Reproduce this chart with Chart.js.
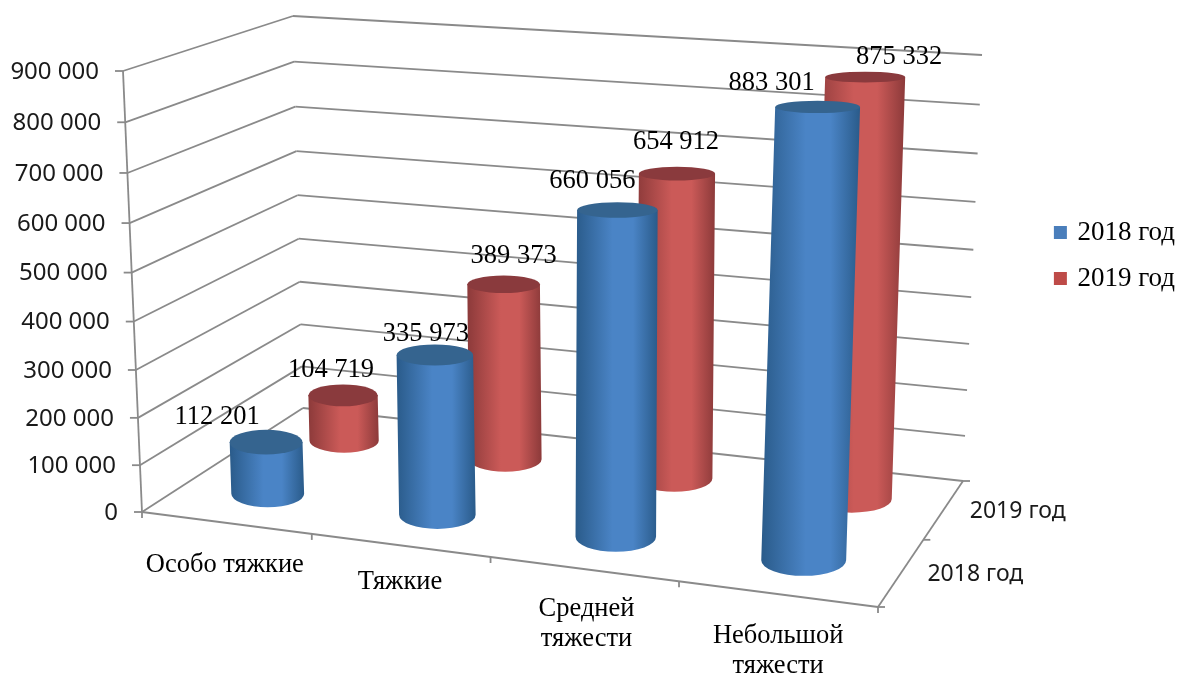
<!DOCTYPE html>
<html>
<head>
<meta charset="utf-8">
<style>
    html, body { margin: 0; padding: 0; background: #fff; }
    canvas { display: block; }
</style>
<script src="https://cdn.jsdelivr.net/npm/chart.js@4/dist/chart.umd.js"></script>
</head>
<body>
<canvas id="myChart" width="1179" height="673"></canvas>
<script>
const categories = [ ['Особо тяжкие'], ['Тяжкие'], ['Средней', 'тяжести'], ['Небольшой', 'тяжести'] ];
const seriesNames = [ '2018 год', '2019 год' ];
const values2018 = [ 112201, 335973, 660056, 883301 ];
const values2019 = [ 104719, 389373, 654912, 875332 ];
const valueMax = 900000;
const valueStep = 100000;

const SERIF = '"Liberation Serif", serif';
const SANS = '"Noto Sans", sans-serif';
const AXIS_COLOR = '#8a8a8a';

// box corners on screen: floor and ceiling, each front-left, front-right, back-right, back-left
const floorCorners = [ [142, 512], [878, 607], [963, 481], [303, 408] ];
const ceilCorners = [ [123, 71], [900, 124], [982, 55], [293, 16] ];
const HEIGHT_PERSPECTIVE = 0.95;
const RADIUS_U = 0.055;
const RADIUS_D = 0.12;
const CAP_FLATTEN = 0.3;

const palettes = [
    { edge: '#2a5b8a', mid: '#4a84c6', cap: '#35648f', solid: '#4a7ebb' },
    { edge: '#8c3a3a', mid: '#cb5a58', cap: '#8a3a3d', solid: '#be4b48' }
];

// nudges of the value labels from the top of their bar
const labelNudge = [
    [ [-49, -25], [-9, -21], [-25, -29], [-46, -24] ],
    [ [-12, -25], [10, -28], [-1, -32], [34, -20] ]
];
// nudges of the category names from their place under the front edge
const categoryNudge = [ [-1, 5], [0, 0], [3, 3], [1, 5] ];

const formatValue = v => String(v).replace(/\B(?=(\d{3})+$)/g, ' ');

// unit square to quad homography
const quadMap = ( q ) => {
    const [ [x0, y0], [x1, y1], [x2, y2], [x3, y3] ] = q;
    const dx1 = x1 - x2, dx2 = x3 - x2, sx = x0 - x1 + x2 - x3;
    const dy1 = y1 - y2, dy2 = y3 - y2, sy = y0 - y1 + y2 - y3;
    const den = dx1 * dy2 - dx2 * dy1;
    const g = (sx * dy2 - dx2 * sy) / den;
    const h = (dx1 * sy - sx * dy1) / den;
    const a = x1 - x0 + g * x1, b = x3 - x0 + h * x3;
    const d = y1 - y0 + g * y1, e = y3 - y0 + h * y3;
    return ( u, v ) => {
        const w = g * u + h * v + 1;
        return [ (a * u + b * v + x0) / w, (d * u + e * v + y0) / w ];
    };
};

const floorMap = quadMap( floorCorners );
const ceilMap = quadMap( ceilCorners );

// u: along categories, v: depth, t: height, all 0..1
const project = ( u, v, t ) => {
    const p = floorMap( u, v ), q = ceilMap( u, v );
    const w0 = 1 - t, w1 = t * HEIGHT_PERSPECTIVE;
    return [ (p[0] * w0 + q[0] * w1) / (w0 + w1), (p[1] * w0 + q[1] * w1) / (w0 + w1) ];
};

const heightOf = ( chart, value ) => {
    const y = chart.scales.y;
    return (y.bottom - y.getPixelForValue( value )) / (y.bottom - y.top);
};

const widthOf = ( chart, index ) => {
    const x = chart.scales.x;
    return (x.getPixelForTick( index ) - x.left) / (x.right - x.left);
};

const depthOf = ( seriesIndex ) => (seriesIndex + 0.5) / seriesNames.length;

const line = ( ctx, a, b ) => {
    ctx.beginPath();
    ctx.moveTo( a[0], a[1] );
    ctx.lineTo( b[0], b[1] );
    ctx.stroke();
};

// ellipse of the bar section at height t: centre and radii on screen
const section = ( u, v, t ) => {
    const c = project( u, v, t );
    const rx = (floorMap( u + RADIUS_U, v )[0] - floorMap( u - RADIUS_U, v )[0]) / 2;
    const ry = (project( u, v - RADIUS_D, t )[1] - project( u, v + RADIUS_D, t )[1]) / 2;
    return { x: c[0], y: c[1], rx, ry: ry * (1 - CAP_FLATTEN * t) };
};

const drawCylinder = ( ctx, u, v, t, colors ) => {
    const top = section( u, v, t );
    const bot = section( u, v, 0 );

    const x0 = Math.min( top.x - top.rx, bot.x - bot.rx );
    const x1 = Math.max( top.x + top.rx, bot.x + bot.rx );
    const grad = ctx.createLinearGradient( x0, 0, x1, 0 );
    grad.addColorStop( 0, colors.edge );
    grad.addColorStop( 0.45, colors.mid );
    grad.addColorStop( 0.7, colors.mid );
    grad.addColorStop( 1, colors.edge );

    ctx.beginPath();
    ctx.moveTo( top.x - top.rx, top.y );
    ctx.lineTo( top.x + top.rx, top.y );
    ctx.lineTo( bot.x + bot.rx, bot.y );
    ctx.ellipse( bot.x, bot.y, bot.rx, bot.ry, 0, 0, Math.PI );
    ctx.closePath();
    ctx.fillStyle = grad;
    ctx.fill();

    ctx.beginPath();
    ctx.ellipse( top.x, top.y, top.rx, top.ry, 0, 0, Math.PI * 2 );
    ctx.fillStyle = colors.cap;
    ctx.fill();
};

const box3d = {
    id: 'box3d',

    // walls, gridlines and all axes
    beforeDatasetsDraw( chart ) {
        const ctx = chart.ctx;
        const yScale = chart.scales.y;
        ctx.save();
        ctx.strokeStyle = AXIS_COLOR;
        ctx.lineWidth = 1.8;
        ctx.textBaseline = 'middle';

        yScale.ticks.forEach( tick => {
            const t = heightOf( chart, tick.value );
            const fl = project( 0, 0, t ), bl = project( 0, 1, t ), br = project( 1, 1, t );
            line( ctx, fl, bl );
            line( ctx, bl, br );
            line( ctx, [ fl[0] - 8, fl[1] ], fl );
            ctx.fillStyle = '#1a1a1a';
            ctx.font = '24px ' + SANS;
            ctx.textAlign = 'right';
            ctx.fillText( tick.label, fl[0] - 24, fl[1] + 1 );
        });

        line( ctx, project( 0, 0, 0 ), project( 0, 0, 1 ) );
        const frontRight = project( 1, 0, 0 ), backRight = project( 1, 1, 0 );
        line( ctx, project( 0, 0, 0 ), frontRight );
        line( ctx, frontRight, backRight );

        // category ticks and names
        const count = categories.length;
        for ( let i = 0; i <= count; i++ ) {
            const p = project( i / count, 0, 0 );
            line( ctx, p, [ p[0], p[1] + 6 ] );
        }
        ctx.fillStyle = '#000';
        ctx.font = '26.5px ' + SERIF;
        ctx.textAlign = 'center';
        categories.forEach( ( lines, i ) => {
            const p = project( widthOf( chart, i ), 0, 0 );
            const n = categoryNudge[i];
            lines.forEach( ( text, k ) => ctx.fillText( text, p[0] + n[0], p[1] + 37 + n[1] + k * 30 ) );
        });

        // depth ticks and names
        for ( let s = 0; s <= seriesNames.length; s++ ) {
            const p = project( 1, s / seriesNames.length, 0 );
            line( ctx, p, [ p[0] + 7, p[1] ] );
        }
        ctx.fillStyle = '#1a1a1a';
        ctx.font = '23px ' + SANS;
        ctx.textAlign = 'left';
        seriesNames.forEach( ( name, s ) => {
            const p = project( 1, depthOf( s ), 0 );
            ctx.fillText( name, p[0] + 26, p[1] + 2 );
        });
        ctx.restore();
    },

    beforeDatasetDraw( chart, args ) {
        const s = args.index;
        const data = chart.data.datasets[s].data;
        data.forEach( ( value, i ) => {
            drawCylinder( chart.ctx, widthOf( chart, i ), depthOf( s ), heightOf( chart, value ), palettes[s] );
        });
        return false;
    },

    afterDatasetsDraw( chart ) {
        const ctx = chart.ctx;
        ctx.save();
        ctx.fillStyle = '#000';
        ctx.font = '26.5px ' + SERIF;
        ctx.textAlign = 'center';
        ctx.textBaseline = 'middle';
        chart.data.datasets.forEach( ( ds, s ) => {
            ds.data.forEach( ( value, i ) => {
                const p = project( widthOf( chart, i ), depthOf( s ), heightOf( chart, value ) );
                const n = labelNudge[s][i];
                ctx.fillText( formatValue( value ), p[0] + n[0], p[1] + n[1] );
            });
        });
        ctx.restore();
    }
};

new Chart( document.getElementById('myChart'), {
    type: 'bar',
    data: {
        labels: categories,
        datasets: [
            { label: seriesNames[0], data: values2018, backgroundColor: palettes[0].solid, borderWidth: 0 },
            { label: seriesNames[1], data: values2019, backgroundColor: palettes[1].solid, borderWidth: 0 }
        ]
    },
    plugins: [ box3d ],
    options: {
        responsive: false,
        animation: false,
        layout: { padding: { top: 200, right: -6 } },
        scales: {
            x: { display: false },
            y: {
                display: false,
                min: 0,
                max: valueMax,
                ticks: { stepSize: valueStep, callback: formatValue }
            }
        },
        plugins: {
            tooltip: { enabled: false },
            legend: {
                position: 'right',
                align: 'start',
                labels: {
                    color: '#000',
                    font: { family: SERIF, size: 27 },
                    usePointStyle: true,
                    pointStyle: 'rect',
                    boxWidth: 7,
                    boxHeight: 13,
                    padding: 19
                }
            }
        }
    }
});
</script>
</body>
</html>
